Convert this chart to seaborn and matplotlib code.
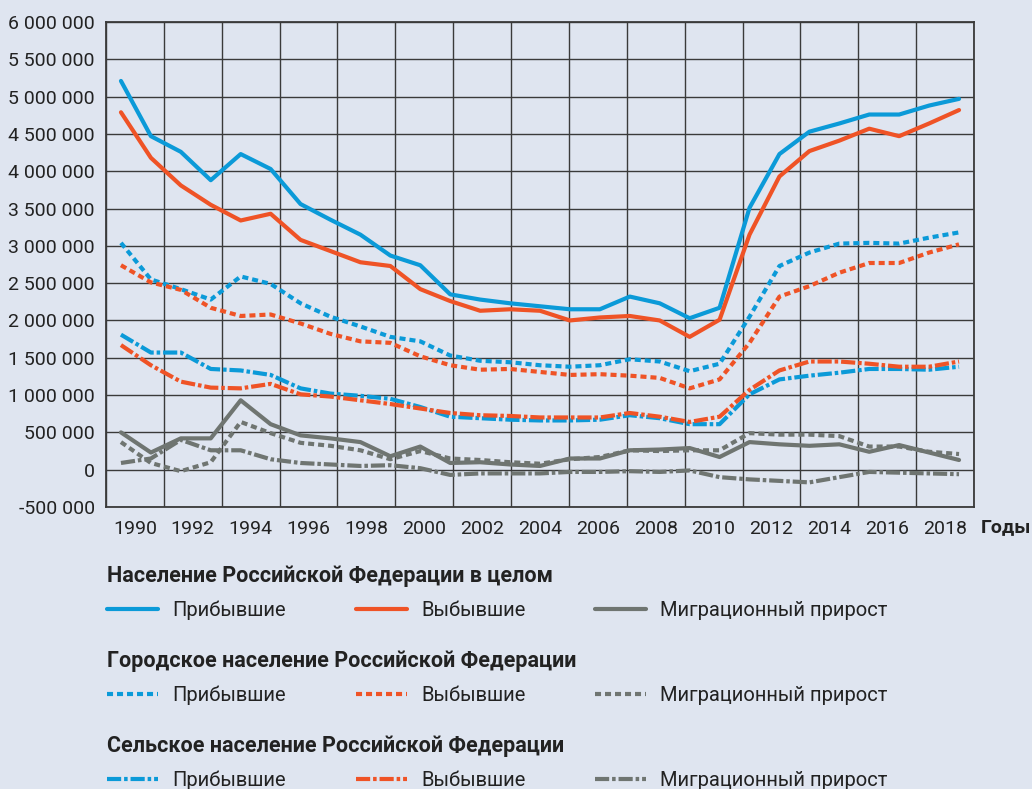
import numpy as np
import pandas as pd
import matplotlib
matplotlib.use("Agg")
import matplotlib.pyplot as plt
from matplotlib.lines import Line2D
from matplotlib.ticker import FixedLocator, FuncFormatter, NullFormatter
import seaborn as sns

# --- data (thousands of people), 1990..2018 ---
years = list(range(1990, 2019))

total_arrived = [5210, 4470, 4260, 3880, 4230, 4030, 3560, 3350, 3150, 2870,
                 2740, 2350, 2280, 2230, 2190, 2150, 2150, 2320, 2230, 2030,
                 2170, 3510, 4230, 4530, 4640, 4760, 4760, 4880, 4970]
total_left = [4790, 4180, 3810, 3550, 3340, 3430, 3080, 2930, 2780, 2730,
              2420, 2260, 2130, 2150, 2130, 2000, 2040, 2060, 2000, 1780,
              2010, 3150, 3930, 4270, 4410, 4570, 4470, 4640, 4820]
total_growth = [500, 230, 420, 420, 930, 610, 460, 420, 370, 180,
                310, 90, 100, 70, 50, 150, 150, 260, 270, 290,
                170, 370, 340, 320, 340, 240, 330, 230, 130]

urban_arrived = [3040, 2550, 2420, 2280, 2590, 2490, 2230, 2050, 1920, 1780,
                 1720, 1530, 1460, 1440, 1400, 1380, 1400, 1480, 1450, 1320,
                 1420, 2050, 2730, 2910, 3030, 3040, 3030, 3110, 3180]
urban_left = [2740, 2510, 2410, 2170, 2060, 2080, 1960, 1820, 1720, 1700,
              1520, 1400, 1340, 1350, 1310, 1270, 1280, 1260, 1230, 1090,
              1210, 1700, 2320, 2460, 2640, 2770, 2770, 2910, 3020]
urban_growth = [370, 90, -20, 100, 640, 490, 360, 320, 260, 140,
                250, 150, 130, 100, 80, 140, 170, 260, 250, 260,
                260, 490, 470, 470, 450, 310, 310, 240, 210]

rural_arrived = [1810, 1570, 1570, 1350, 1330, 1270, 1090, 1020, 990, 950,
                 840, 710, 690, 670, 660, 660, 670, 730, 690, 610,
                 610, 1010, 1210, 1260, 1300, 1350, 1350, 1340, 1380]
rural_left = [1670, 1400, 1180, 1100, 1090, 1150, 1010, 980, 930, 880,
              820, 760, 730, 720, 700, 700, 700, 760, 710, 640,
              710, 1070, 1330, 1450, 1450, 1420, 1380, 1380, 1450]
rural_growth = [90, 150, 400, 260, 260, 140, 90, 70, 50, 60,
                20, -70, -50, -50, -50, -30, -30, -20, -30, -10,
                -100, -130, -150, -170, -100, -30, -40, -50, -60]

measures = ["Прибывшие", "Выбывшие", "Миграционный прирост"]
groups = [
    "Население Российской Федерации в целом",
    "Городское население Российской Федерации",
    "Сельское население Российской Федерации",
]
series = {
    groups[0]: [total_arrived, total_left, total_growth],
    groups[1]: [urban_arrived, urban_left, urban_growth],
    groups[2]: [rural_arrived, rural_left, rural_growth],
}
tick_labels = [str(y) for y in range(1990, 2019, 2)]

# --- styling ---
BG = "#dfe5f0"
colors = {"Прибывшие": "#0b9ad8", "Выбывшие": "#ef5326", "Миграционный прирост": "#6f7571"}
dashes = {
    groups[0]: "solid",
    groups[1]: (0, (1.45, 0.95)),
    groups[2]: (0, (3.4, 0.7, 0.85, 0.7)),
}
LW = 3.0

sns.set_theme(style="white")
plt.rcParams["font.family"] = ["Roboto", "DejaVu Sans"]

fig = plt.figure(figsize=(10.32, 7.89), dpi=100, facecolor=BG)
ax = fig.add_axes([106 / 1032, 1 - 507 / 789, (974 - 106) / 1032, (507 - 22) / 789])
ax.set_facecolor(BG)

for g in groups:
    for m, vals in zip(measures, series[g]):
        df = pd.DataFrame({"year": years, "value": np.array(vals) * 1000})
        sns.lineplot(data=df, x="year", y="value", ax=ax, color=colors[m],
                     linewidth=LW, linestyle=dashes[g], legend=False, zorder=3)

# axes limits and grid
ax.set_xlim(1989.5, 2018.5)
ax.set_ylim(-500000, 6000000)
edges = np.linspace(1989.5, 2018.5, 16)
centers = (edges[:-1] + edges[1:]) / 2
ax.xaxis.set_major_locator(FixedLocator(centers))
ax.set_xticklabels(tick_labels)
ax.xaxis.set_minor_locator(FixedLocator(edges))
ax.xaxis.set_minor_formatter(NullFormatter())
ax.yaxis.set_major_locator(FixedLocator(np.arange(-500000, 6000001, 500000)))
ax.yaxis.set_major_formatter(FuncFormatter(lambda v, p: f"{v:,.0f}".replace(",", " ")))
ax.grid(False)
ax.grid(True, which="minor", axis="x", color="#3a3a3a", linewidth=1.0)
ax.grid(True, which="major", axis="y", color="#3a3a3a", linewidth=1.0)
ax.tick_params(axis="both", which="both", length=0, labelsize=14, labelcolor="#222222")
ax.tick_params(axis="x", pad=9)
ax.tick_params(axis="y", pad=8)
for s in ax.spines.values():
    s.set_color("#3a3a3a")
    s.set_linewidth(1.3)
ax.set_xlabel("")
ax.set_ylabel("")

fig.text(981 / 1032, 1 - 527 / 789, "Годы", fontsize=14, fontweight="bold",
         color="#222222", ha="left", va="center")

# legends: one block per population group
tops = [565, 650, 735]
for g, top in zip(groups, tops):
    handles = [Line2D([], [], color=colors[m], linewidth=LW, linestyle=dashes[g]) for m in measures]
    leg = fig.legend(handles, measures, loc="upper left",
                     bbox_to_anchor=(107 / 1032, 1 - top / 789),
                     ncol=3, frameon=False, fontsize=14.5, title=g,
                     title_fontproperties={"weight": "bold", "size": 15.5},
                     alignment="left", borderpad=0, borderaxespad=0,
                     handlelength=2.55, handletextpad=0.7, columnspacing=3.45,
                     labelspacing=0.65)
    for t in leg.get_texts():
        t.set_color("#222222")
    leg.get_title().set_color("#222222")

fig.savefig("out.png", dpi=100, facecolor=BG)
